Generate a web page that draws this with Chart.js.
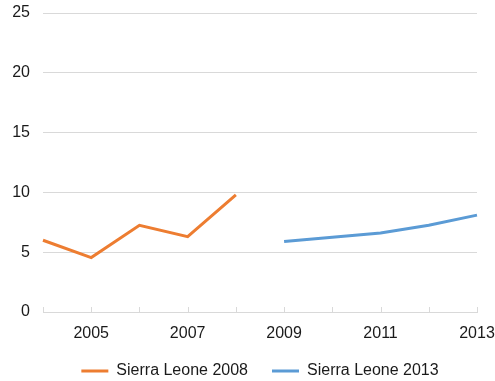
<!DOCTYPE html>
<html>
<head>
<meta charset="utf-8">
<script src="https://cdn.jsdelivr.net/npm/chart.js@4.4.1/dist/chart.umd.min.js"></script>
<style>
  html, body { margin: 0; padding: 0; background: #fff; }
  #wrap { width: 495px; height: 381px; }
</style>
</head>
<body>
<div id="wrap"><canvas id="lineChart"></canvas></div>
<script>
const years = ['2004', '2005', '2006', '2007', '2008', '2009', '2010', '2011', '2012', '2013'];
const sl2008 = [6.0, 4.55, 7.25, 6.3, 9.8, null, null, null, null, null];
const sl2013 = [null, null, null, null, null, 5.9, 6.25, 6.6, 7.25, 8.1];
const yTicks = [0, 5, 10, 15, 20, 25];

// short tick marks that stand up from the x axis line
const upTicks = {
  id: 'upTicks',
  afterDatasetsDraw(chart) {
    const x = chart.scales.x, ctx = chart.ctx;
    const yb = chart.chartArea.bottom;
    ctx.save();
    ctx.strokeStyle = '#d9d9d9';
    ctx.lineWidth = 1;
    years.forEach((y, i) => {
      const px = Math.round(x.getPixelForValue(i)) + 0.5;
      ctx.beginPath();
      ctx.moveTo(px, yb);
      ctx.lineTo(px, yb - 5);
      ctx.stroke();
    });
    ctx.restore();
  }
};

Chart.defaults.font.family = '"Liberation Sans", Arial, sans-serif';
Chart.defaults.font.size = 16;
Chart.defaults.color = '#1a1a1a';

const ctx = document.getElementById('lineChart').getContext('2d');
new Chart(ctx, {
  type: 'line',
  data: {
    labels: years,
    datasets: [
      { label: 'Sierra Leone 2008', data: sl2008, borderColor: '#ed7d31', backgroundColor: '#ed7d31',
        borderWidth: 3, pointRadius: 0, tension: 0, spanGaps: false },
      { label: 'Sierra Leone 2013', data: sl2013, borderColor: '#5b9bd5', backgroundColor: '#5b9bd5',
        borderWidth: 3, pointRadius: 0, tension: 0, spanGaps: false }
    ]
  },
  options: {
    responsive: true,
    maintainAspectRatio: false,
    animation: false,
    layout: { padding: { left: 13, top: 13, right: 0, bottom: 0 } },
    plugins: {
      tooltip: { enabled: false },
      legend: {
        position: 'bottom',
        fullSize: false,
        maxHeight: 42,
        labels: { usePointStyle: true, pointStyle: 'line', pointStyleWidth: 27, padding: 24 }
      }
    },
    scales: {
      x: {
        offset: false,
        grid: { display: true, drawOnChartArea: false, drawTicks: false },
        border: { display: true, color: '#d9d9d9' },
        ticks: {
          autoSkip: false, maxRotation: 0, padding: 14,
          font: { lineHeight: 1 },
          callback: (v, i) => (i % 2 === 1 ? years[i] : '')
        },
        afterFit: s => { s.height = 27; s.paddingLeft = 0; s.paddingRight = 18; }
      },
      y: {
        min: 0, max: 25,
        afterBuildTicks: axis => { axis.ticks = yTicks.map(v => ({ value: v })); },
        grid: { color: '#d9d9d9', drawTicks: false },
        border: { display: false },
        ticks: { padding: 13 },
        afterFit: s => { s.width = 30; s.paddingTop = 0; s.paddingBottom = 0; }
      }
    }
  },
  plugins: [upTicks]
});
</script>
</body>
</html>
